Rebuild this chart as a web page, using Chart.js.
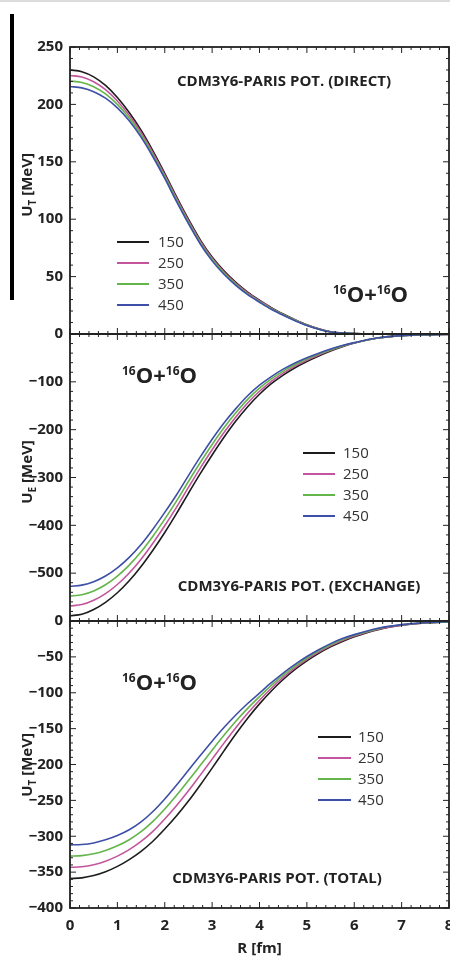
<!DOCTYPE html>
<html>
<head>
<meta charset="utf-8">
<script src="https://cdn.jsdelivr.net/npm/chart.js@4.4.1/dist/chart.umd.min.js"></script>
<style>
  html, body { margin: 0; padding: 0; background: #fff; }
  body { width: 450px; height: 958px; position: relative; overflow: hidden; }
  .topline { position: absolute; left: 0; top: 0; width: 450px; height: 2px; background: #dcdcdc; }
  .bar { position: absolute; left: 10px; top: 14px; width: 4px; height: 286px; background: #000; }
  canvas { position: absolute; left: 0; }
</style>
</head>
<body>
<div class="topline"></div>
<div class="bar"></div>
<canvas id="direct" width="479" height="364" style="top:0px"></canvas>
<canvas id="exchange" width="479" height="347" style="top:304px"></canvas>
<canvas id="total" width="479" height="367" style="top:591px"></canvas>
<script>
// R grid [fm] and energies (legend)
const R = [0, 0.25, 0.5, 0.75, 1, 1.25, 1.5, 1.75, 2, 2.25, 2.5, 2.75, 3, 3.25, 3.5, 3.75, 4,
           4.25, 4.5, 4.75, 5, 5.25, 5.5, 5.75, 6, 6.5, 7, 7.5, 8]
const energies = ["150", "250", "350", "450"]
const colors = ["#1c1c1c", "#c4559c", "#63b54a", "#3d4fa6"]

// direct part [MeV]
const direct150 = [230, 228.5, 224, 216.5, 206, 193, 177.5, 159.5, 140, 119.5, 100, 82, 67, 55, 45, 36.5, 29.5,
                   23, 17.5, 12.5, 8, 4.5, 2, 0.8, 0.3, 0.1, 0, 0, 0]
const direct250 = [225.2, 223.8, 219.7, 212.8, 203, 190.6, 175.5, 157.8, 138.5, 118.1, 98.7, 80.8, 65.9, 54, 44.1, 35.75, 28.9,
                   22.5, 17.1, 12.2, 7.8, 4.35, 1.9, 0.8, 0.3, 0.1, 0, 0, 0]
const direct350 = [220.4, 219.1, 215.4, 209.1, 200, 188.2, 173.5, 156.1, 137, 116.7, 97.4, 79.6, 64.8, 53, 43.2, 35, 28.3,
                   22, 16.7, 11.9, 7.6, 4.2, 1.8, 0.8, 0.3, 0.1, 0, 0, 0]
const direct450 = [215.6, 214.4, 211.1, 205.4, 197, 185.8, 171.5, 154.4, 135.5, 115.3, 96.1, 78.4, 63.7, 52, 42.3, 34.25, 27.7,
                   21.5, 16.3, 11.6, 7.4, 4.05, 1.7, 0.8, 0.3, 0.1, 0, 0, 0]

// exchange part [MeV]
const exchange150 = [-589, -586, -576, -561, -541, -516, -486, -452, -415, -375, -333, -292, -253, -216, -182, -152, -126,
                     -104, -86, -70.5, -57.5, -46, -35.5, -26.5, -19, -8.5, -3.5, -1.5, -0.7]
const exchange250 = [-568.5, -565.7, -556.7, -542.7, -523.7, -499.7, -470.7, -437.3, -401, -362, -320.7, -280.3, -242, -206, -173.3, -144.3, -119.7,
                     -99, -81.8, -67.2, -54.8, -44, -34.2, -25.7, -18.7, -8.3, -3.4, -1.5, -0.7]
const exchange350 = [-548, -545.3, -537.3, -524.3, -506.3, -483.3, -455.3, -422.7, -387, -349, -308.3, -268.7, -231, -196, -164.7, -136.7, -113.3,
                     -94, -77.7, -63.8, -52.2, -42, -32.8, -24.8, -18.3, -8.2, -3.4, -1.4, -0.6]
const exchange450 = [-527.5, -525, -518, -506, -489, -467, -440, -408, -373, -336, -296, -257, -220, -186, -156, -129, -107,
                     -89, -73.5, -60.5, -49.5, -40, -31.5, -24, -18, -8, -3.3, -1.4, -0.6]

// total [MeV]
const total150 = [-359, -358, -354.8, -349.5, -342, -332.5, -321, -307, -290, -271.5, -251, -228.5, -205, -181, -157.5, -135.5, -115.5,
                  -97.5, -81.5, -67.5, -55.5, -45, -36, -28.5, -22, -12, -6, -2.8, -1.3]
const total250 = [-343.3, -342.5, -339.6, -334.7, -327.7, -318.7, -307.3, -293.2, -276, -257.2, -236.7, -214.8, -192.5, -170.2, -148.7, -128.7, -110.5,
                  -93.7, -78.5, -65.2, -53.5, -43.3, -34.5, -27.2, -21, -11.3, -5.7, -2.7, -1.2]
const total350 = [-327.7, -327, -324.5, -319.8, -313.3, -304.8, -293.7, -279.3, -262, -242.8, -222.3, -201.2, -180, -159.3, -139.8, -121.8, -105.5,
                  -89.8, -75.5, -62.8, -51.5, -41.7, -33, -25.8, -20, -10.7, -5.3, -2.4, -1.2]
const total450 = [-312, -311.5, -309.3, -305, -299, -291, -280, -265.5, -248, -228.5, -208, -187.5, -167.5, -148.5, -131, -115, -100.5,
                  -86, -72.5, -60.5, -49.5, -40, -31.5, -24.5, -19, -10, -5, -2.3, -1.1]

const FONT = '"Open Sans", "Noto Sans", sans-serif'
Chart.defaults.font.family = FONT
Chart.defaults.color = "#222"

function makeDatasets(series) {
    return series.map((vals, i) => ({
        label: energies[i],
        data: R.map((r, k) => ({ x: r, y: vals[k] })),
        borderColor: colors[i],
        borderWidth: 1.6,
        pointRadius: 0,
        fill: false,
        cubicInterpolationMode: "monotone",
        order: 3 - i
    }))
}

function minusFmt(hidden) {
    return function (v) {
        if (hidden.includes(v)) return ""
        return v < 0 ? "\u2212" + Math.abs(v) : String(v)
    }
}

function line(ctx, x1, y1, x2, y2) {
    ctx.beginPath()
    ctx.moveTo(x1, y1)
    ctx.lineTo(x2, y2)
    ctx.stroke()
}

// frame, inward ticks, legend and text labels
const panelDeco = {
    id: "panelDeco",
    afterDatasetsDraw(chart, args, o) {
        const ctx = chart.ctx
        const a = chart.chartArea
        const xs = chart.scales.x
        const ys = chart.scales.y
        const top = o.canvasTop
        ctx.save()
        ctx.strokeStyle = "#222"

        // x ticks on top and bottom
        ctx.lineWidth = 1
        for (let i = 0; i <= 40; i++) {
            const p = xs.getPixelForValue(i * 0.2)
            const len = i % 5 === 0 ? 6 : 3
            line(ctx, p, a.top, p, a.top + len)
            line(ctx, p, a.bottom, p, a.bottom - len)
        }
        // y ticks left and right
        const n = Math.round((ys.max - ys.min) / o.yMinor)
        for (let i = 0; i <= n; i++) {
            const v = ys.min + i * o.yMinor
            const p = ys.getPixelForValue(v)
            const len = Math.abs(v % o.yMajor) < 1e-6 ? 6 : 3
            line(ctx, a.left, p, a.left + len, p)
            line(ctx, a.right, p, a.right - len, p)
        }
        ctx.lineWidth = 1.8
        ctx.strokeRect(a.left, a.top, a.right - a.left, a.bottom - a.top)

        ctx.fillStyle = "#222"
        // panel label
        ctx.font = "bold 15px " + FONT
        ctx.textAlign = "center"
        ctx.textBaseline = "middle"
        ctx.fillText(o.label, o.labelX, o.labelY - top)

        // 16O+16O
        ctx.textAlign = "left"
        ctx.textBaseline = "alphabetic"
        let cx = o.nuclX
        const parts = [["16", true], ["O", false], ["+", false], ["16", true], ["O", false]]
        for (const [t, sup] of parts) {
            ctx.font = sup ? "bold 12px " + FONT : "bold 22px " + FONT
            ctx.fillText(t, cx, o.nuclY - top - (sup ? 8 : 0))
            cx += ctx.measureText(t).width
        }

        // legend
        ctx.font = "15px " + FONT
        ctx.textBaseline = "middle"
        energies.forEach((e, i) => {
            const y = o.legY + i * 21 - top
            ctx.strokeStyle = colors[i]
            ctx.lineWidth = 2
            line(ctx, o.legX1, y, o.legX2, y)
            ctx.fillStyle = "#333"
            ctx.fillText(e, o.legText, y + 0.5)
        })

        // rotated y title with subscript
        ctx.fillStyle = "#222"
        ctx.translate(27, o.titleY - top)
        ctx.rotate(-Math.PI / 2)
        ctx.textBaseline = "alphabetic"
        const big = "bold 15px " + FONT
        const small = "bold 10px " + FONT
        ctx.font = big
        const wU = ctx.measureText("U").width
        const wRest = ctx.measureText(" [MeV]").width
        ctx.font = small
        const wSub = ctx.measureText(o.sub).width
        let sx = -(wU + wSub + wRest) / 2
        ctx.font = big
        ctx.fillText("U", sx, 5.4)
        sx += wU
        ctx.font = small
        ctx.fillText(o.sub, sx, 8.5)
        sx += wSub
        ctx.font = big
        ctx.fillText(" [MeV]", sx, 5.4)
        ctx.restore()
    }
}

function makeChart(id, series, yOpts, deco, showX, padding) {
    const xScale = {
        type: "linear",
        min: 0,
        max: 8,
        display: showX,
        grid: { display: false, drawTicks: false },
        border: { display: false },
        ticks: { stepSize: 1, padding: 9, font: { size: 15, weight: "bold" }, color: "#222" },
        title: { display: true, text: "R [fm]", font: { size: 15, weight: "bold" }, color: "#222", padding: { top: 0, bottom: 0 } }
    }
    if (showX) xScale.afterFit = (s) => { s.height = 50 }
    return new Chart(document.getElementById(id), {
        type: "line",
        data: { datasets: makeDatasets(series) },
        options: {
            responsive: false,
            animation: false,
            devicePixelRatio: 1,
            layout: { padding: padding },
            plugins: { legend: { display: false }, tooltip: { enabled: false }, panelDeco: deco },
            scales: {
                x: xScale,
                y: {
                    min: yOpts.min,
                    max: yOpts.max,
                    grid: { display: false, drawTicks: false },
                    border: { display: false },
                    ticks: {
                        stepSize: yOpts.step,
                        padding: 7,
                        font: { size: 15, weight: "bold" },
                        color: "#222",
                        callback: minusFmt(yOpts.hidden)
                    },
                    afterFit: (s) => { s.width = 70 }
                }
            }
        },
        plugins: [panelDeco]
    })
}

makeChart("direct", [direct150, direct250, direct350, direct450],
    { min: 0, max: 250, step: 50, hidden: [] },
    { canvasTop: 0, yMinor: 10, yMajor: 50, sub: "T", titleY: 185,
      label: "CDM3Y6-PARIS POT. (DIRECT)", labelX: 284, labelY: 82,
      nuclX: 333, nuclY: 302, legX1: 117, legX2: 149, legText: 158, legY: 242 },
    false, { left: 0, right: 30, top: 47, bottom: 30 })

makeChart("exchange", [exchange150, exchange250, exchange350, exchange450],
    { min: -600, max: 0, step: 100, hidden: [0, -600] },
    { canvasTop: 304, yMinor: 20, yMajor: 100, sub: "E", titleY: 472,
      label: "CDM3Y6-PARIS POT. (EXCHANGE)", labelX: 299, labelY: 587,
      nuclX: 122, nuclY: 383, legX1: 303, legX2: 335, legText: 343, legY: 453 },
    false, { left: 0, right: 30, top: 30, bottom: 30 })

makeChart("total", [total150, total250, total350, total450],
    { min: -400, max: 0, step: 50, hidden: [] },
    { canvasTop: 591, yMinor: 10, yMajor: 50, sub: "T", titleY: 765,
      label: "CDM3Y6-PARIS POT. (TOTAL)", labelX: 277, labelY: 879,
      nuclX: 122, nuclY: 690, legX1: 318, legX2: 351, legText: 358, legY: 737 },
    true, { left: 0, right: 30, top: 30, bottom: 0 })
</script>
</body>
</html>
